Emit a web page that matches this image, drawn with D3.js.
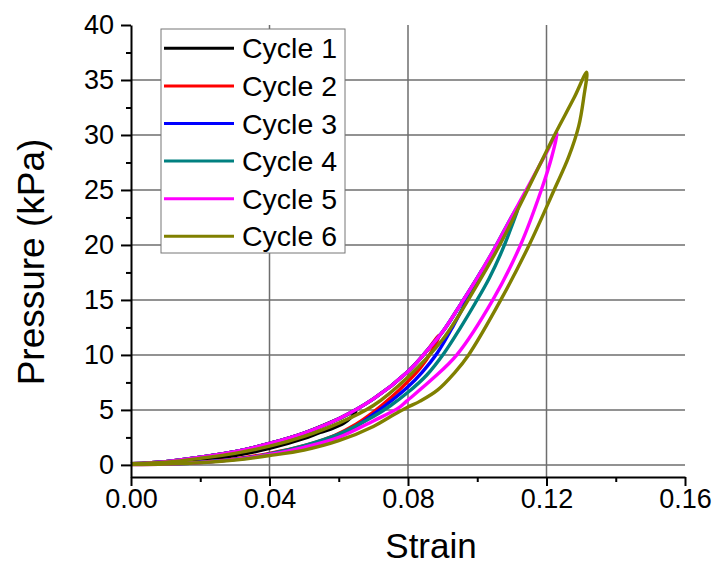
<!DOCTYPE html>
<html>
<head>
<meta charset="utf-8">
<script src="https://cdn.jsdelivr.net/npm/d3@7"></script>
<style>
  body { margin: 0; background: #fff; }
  svg { display: block; font-family: "Liberation Sans", Arial, sans-serif; }
</style>
</head>
<body>
<div class="chart_area"></div>
<script>

// values: [strain, pressure kPa], loading branch then unloading branch
var cycle1 = [[0, 0.1], [0.01, 0.3], [0.02, 0.7], [0.03, 1.2], [0.04, 1.95], [0.05, 2.9], [0.06, 4.2], [0.065, 4.9],
    [0.0635, 4.3], [0.0615, 3.8], [0.058, 3.3], [0.0546, 2.95], [0.05, 2.4], [0.04, 1.5], [0.03, 0.85], [0.02, 0.4], [0.01, 0.15], [0, 0.05]];
var cycle2 = [[0, 0.1], [0.01, 0.3], [0.02, 0.7], [0.03, 1.2], [0.04, 1.95], [0.05, 2.9], [0.06, 4.2], [0.07, 6.0], [0.08, 8.5], [0.085, 10.2], [0.089, 11.8],
    [0.0868, 10.3], [0.0835, 8.8], [0.08, 7.6], [0.075, 6.1], [0.07, 4.8], [0.065, 3.7], [0.0589, 2.7], [0.05, 1.75], [0.04, 1.05], [0.03, 0.55], [0.02, 0.25], [0.01, 0.1], [0, 0.05]];
var cycle3 = [[0, 0.1], [0.01, 0.3], [0.02, 0.7], [0.03, 1.2], [0.04, 1.95], [0.05, 2.9], [0.06, 4.2], [0.07, 6.0], [0.08, 8.5], [0.085, 10.2], [0.09, 12.1], [0.095, 14.5], [0.1, 17.0], [0.1015, 17.8],
    [0.0975, 15.3], [0.093, 12.6], [0.0885, 10.2], [0.084, 8.4], [0.08, 7.1], [0.0755, 5.9], [0.07, 4.6], [0.0633, 3.2], [0.055, 2.1], [0.045, 1.3], [0.035, 0.7], [0.025, 0.35], [0.015, 0.12], [0, 0.05]];
var cycle4 = [[0, 0.1], [0.01, 0.3], [0.02, 0.7], [0.03, 1.2], [0.04, 1.95], [0.05, 2.9], [0.06, 4.2], [0.07, 6.0], [0.08, 8.5], [0.085, 10.2], [0.09, 12.1], [0.095, 14.5], [0.1, 17.0], [0.105, 19.7], [0.11, 22.6], [0.112, 23.6],
    [0.1097, 21.5], [0.1072, 19.5], [0.1035, 17.0], [0.0994, 14.7], [0.095, 12.4], [0.0905, 10.2], [0.0855, 8.2], [0.08, 6.6], [0.075, 5.4], [0.07, 4.4], [0.06, 2.8], [0.05, 1.75], [0.04, 1.0], [0.03, 0.5], [0.02, 0.25], [0.01, 0.1], [0, 0.05]];
var cycle5 = [[0, 0.1], [0.01, 0.3], [0.02, 0.7], [0.03, 1.2], [0.04, 1.95], [0.05, 2.9], [0.06, 4.2], [0.07, 6.0], [0.08, 8.5], [0.085, 10.2], [0.09, 12.1], [0.095, 14.5], [0.1, 17.0], [0.105, 19.7], [0.11, 22.6], [0.115, 25.5], [0.12, 28.4], [0.123, 30.2],
    [0.1215, 28.0], [0.1185, 25.0], [0.1125, 20.0], [0.1045, 15.0], [0.0941, 10.0], [0.087, 7.8], [0.0796, 5.8], [0.0774, 5.2], [0.07, 4.0], [0.06, 2.5], [0.05, 1.6], [0.04, 0.95], [0.03, 0.5], [0.02, 0.22], [0.01, 0.08], [0, 0.03]];
var cycle6 = [[0, 0.1], [0.01, 0.25], [0.02, 0.6], [0.03, 1.05], [0.04, 1.7], [0.05, 2.6], [0.06, 3.8], [0.07, 5.4], [0.08, 8.0], [0.09, 11.4], [0.1, 16.4], [0.1065, 20.0], [0.1145, 25.0], [0.122, 29.8], [0.128, 33.4], [0.1316, 35.7],
    [0.1308, 33.5], [0.1293, 30.8], [0.1264, 28.0], [0.1222, 25.0], [0.115, 20.0], [0.1068, 15.0], [0.0975, 10.0], [0.0935, 8.4], [0.0885, 6.8], [0.0835, 5.8], [0.0796, 5.2], [0.075, 4.4], [0.07, 3.5], [0.06, 2.2], [0.05, 1.35], [0.04, 0.85], [0.03, 0.45], [0.02, 0.2], [0.01, 0.08], [0, 0.03]];

var seriesNames = ["Cycle 1", "Cycle 2", "Cycle 3", "Cycle 4", "Cycle 5", "Cycle 6"];
var seriesColors = ["#000000", "#ff0000", "#0000ff", "#008080", "#ff00ff", "#808000"];
var xTicks = [0, 0.04, 0.08, 0.12, 0.16];
var xMinor = [0.02, 0.06, 0.1, 0.14];
var yTicks = [0, 5, 10, 15, 20, 25, 30, 35, 40];
var yMinor = [2.5, 7.5, 12.5, 17.5, 22.5, 27.5, 32.5, 37.5];
var xGrid = [0.04, 0.08, 0.12];
var yGrid = [0, 5, 10, 15, 20, 25, 30, 35];

var allCycles = [cycle1, cycle2, cycle3, cycle4, cycle5, cycle6];

var width = 718, height = 567;

var svg = d3.select(".chart_area")
    .append("svg")
    .attr("width", width)
    .attr("height", height);

var x = d3.scaleLinear()
    .domain([0, 0.16])
    .range([131, 685]);

var y = d3.scaleLinear()
    .domain([-1.1, 40])
    .range([477, 25]);

// grid lines
svg.append("g")
    .selectAll("line")
    .data(yGrid)
    .enter()
    .append("line")
    .attr("x1", x(0))
    .attr("x2", x(0.16))
    .attr("y1", function (d) { return y(d); })
    .attr("y2", function (d) { return y(d); })
    .style("stroke", "#6e6e6e")
    .style("stroke-width", 1.5);

svg.append("g")
    .selectAll("line")
    .data(xGrid)
    .enter()
    .append("line")
    .attr("x1", function (d) { return x(d); })
    .attr("x2", function (d) { return x(d); })
    .attr("y1", y(40))
    .attr("y2", y(-1.1))
    .style("stroke", "#6e6e6e")
    .style("stroke-width", 1.5);

// curves
var line = d3.line()
    .x(function (d) { return x(d[0]); })
    .y(function (d) { return y(d[1]); })
    .curve(d3.curveCatmullRom.alpha(0.5));

svg.append("g")
    .selectAll("path")
    .data(allCycles)
    .enter()
    .append("path")
    .attr("d", line)
    .style("fill", "none")
    .style("stroke", function (d, i) { return seriesColors[i]; })
    .style("stroke-width", 3.4)
    .style("stroke-linejoin", "round");

// axes
var x_axis = svg.append("g")
    .attr("transform", "translate(0," + y(-1.1) + ")")
    .call(d3.axisBottom(x).tickValues(xTicks).tickSize(9).tickSizeOuter(0).tickPadding(3)
        .tickFormat(d3.format(".2f")));

svg.append("g")
    .attr("transform", "translate(0," + y(-1.1) + ")")
    .call(d3.axisBottom(x).tickValues(xMinor).tickSize(5).tickFormat(""))
    .select(".domain").remove();

var y_axis = svg.append("g")
    .attr("transform", "translate(" + x(0) + ",0)")
    .call(d3.axisLeft(y).tickValues(yTicks).tickSize(10).tickSizeOuter(0).tickPadding(7));

svg.append("g")
    .attr("transform", "translate(" + x(0) + ",0)")
    .call(d3.axisLeft(y).tickValues(yMinor).tickSize(5).tickFormat(""))
    .select(".domain").remove();

svg.selectAll(".domain, .tick line")
    .style("stroke", "#000")
    .style("stroke-width", 2);

x_axis.selectAll("text")
    .style("font-size", "27px")
    .style("font-family", "'Liberation Sans', Arial, sans-serif")
    .style("fill", "#000");

y_axis.selectAll("text")
    .style("font-size", "27px")
    .style("font-family", "'Liberation Sans', Arial, sans-serif")
    .style("fill", "#000");

// axis titles
svg.append("text")
    .attr("x", 431)
    .attr("y", 558)
    .attr("text-anchor", "middle")
    .style("font-size", "35px")
    .text("Strain");

svg.append("text")
    .attr("transform", "translate(44,262) rotate(-90)")
    .attr("text-anchor", "middle")
    .style("font-size", "37px")
    .text("Pressure (kPa)");

// legend
var legend = svg.append("g");

legend.append("rect")
    .attr("x", 161)
    .attr("y", 29)
    .attr("width", 184)
    .attr("height", 224)
    .style("fill", "#fff")
    .style("stroke", "#777")
    .style("stroke-width", 1);

var rows = legend.selectAll(".legend_row")
    .data(seriesNames)
    .enter()
    .append("g")
    .attr("class", "legend_row")
    .attr("transform", function (d, i) { return "translate(0," + (48.3 + i * 37.6) + ")"; });

rows.append("line")
    .attr("x1", 164)
    .attr("x2", 234)
    .style("stroke", function (d, i) { return seriesColors[i]; })
    .style("stroke-width", 3);

rows.append("text")
    .attr("x", 242)
    .attr("y", 10)
    .style("font-size", "28.5px")
    .text(function (d) { return d; });

</script>
</body>
</html>
